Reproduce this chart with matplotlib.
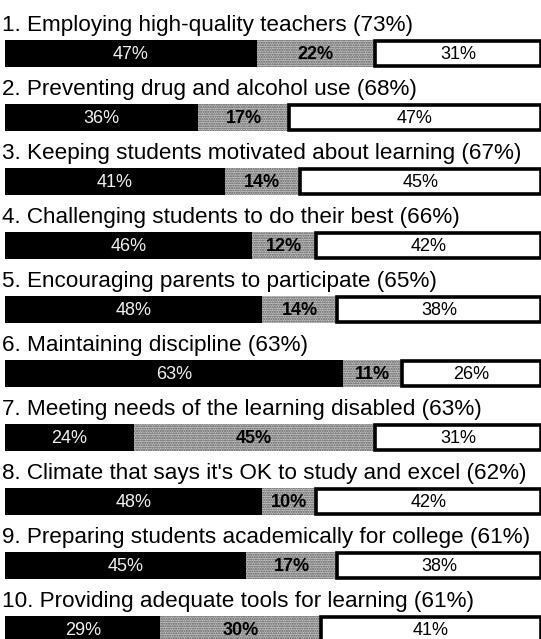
import matplotlib
matplotlib.use("Agg")
import matplotlib.pyplot as plt

plt.rcParams['font.family'] = ['Liberation Sans', 'DejaVu Sans']

titles = [
    "1. Employing high-quality teachers (73%)",
    "2. Preventing drug and alcohol use (68%)",
    "3. Keeping students motivated about learning (67%)",
    "4. Challenging students to do their best (66%)",
    "5. Encouraging parents to participate (65%)",
    "6. Maintaining discipline (63%)",
    "7. Meeting needs of the learning disabled (63%)",
    "8. Climate that says it's OK to study and excel (62%)",
    "9. Preparing students academically for college (61%)",
    "10. Providing adequate tools for learning (61%)",
]
black_vals = [47, 36, 41, 46, 48, 63, 24, 48, 45, 29]
gray_vals = [22, 17, 14, 12, 14, 11, 45, 10, 17, 30]
white_vals = [31, 47, 45, 42, 38, 26, 31, 42, 38, 41]

W, H = 541, 639
fig = plt.figure(figsize=(W / 100, H / 100), dpi=100)
ax = fig.add_axes([5 / W, 0, 1 - 5 / W, 1])
ax.set_xlim(0, 100)
ax.set_ylim(H, 0)
ax.axis('off')

pitch = 64
bar_h = 27
first_center = 53.5

for i, (t, b, g, w) in enumerate(zip(titles, black_vals, gray_vals, white_vals)):
    yc = first_center + i * pitch
    ax.text(-0.6, yc - bar_h / 2 - 4, t, fontsize=16.2, va='bottom', ha='left', color='black')
    ax.barh(yc, b, left=0, height=bar_h, color='black', edgecolor='black', linewidth=0)
    ax.barh(yc, g, left=b, height=bar_h, color='#c8c8c8', edgecolor='#555555',
            hatch='.......', linewidth=0)
    ax.barh(yc, w, left=b + g, height=bar_h - 2.5, color='white', edgecolor='black', linewidth=2.6)
    ax.text(b / 2, yc + 1, f"{b}%", color='#f0f0f0', fontsize=13, ha='center', va='center')
    ax.text(b + g / 2, yc + 1, f"{g}%", color='black', fontsize=13, fontweight='bold',
            ha='center', va='center')
    ax.text(b + g + w / 2, yc + 1, f"{w}%", color='black', fontsize=13, ha='center', va='center')

fig.savefig("out.png", dpi=100)
